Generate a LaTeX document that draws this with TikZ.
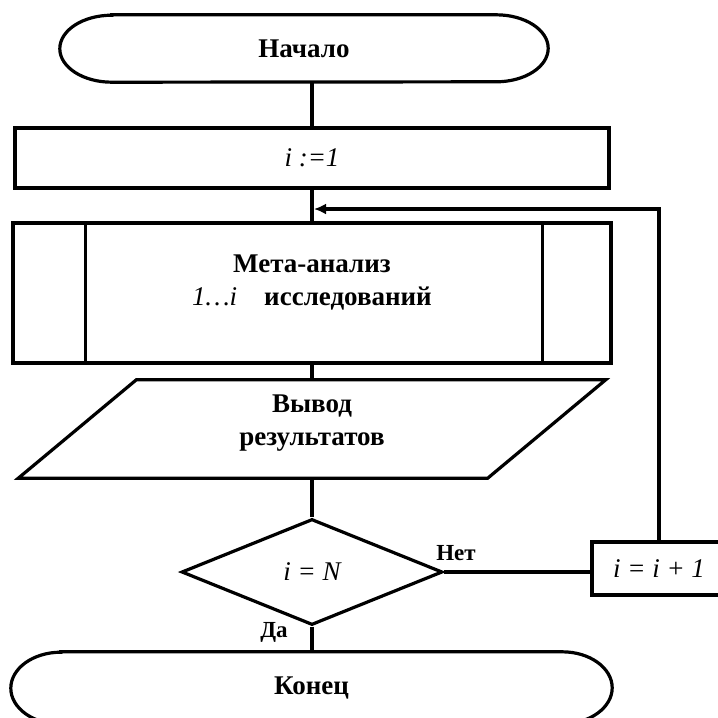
\documentclass[tikz,border=0pt]{standalone}
\usepackage{fontspec}
\setmainfont{Liberation Serif}
\usetikzlibrary{arrows.meta,shapes.geometric}

\begin{document}
\begin{tikzpicture}[x=1pt,y=1pt,
  line/.style={line width=3.2pt},
  box/.style={draw, line width=3.2pt, inner sep=0pt, align=center, font=\fontsize{27}{33}\selectfont\bfseries},
  blank/.style={inner sep=0pt, align=center, font=\fontsize{27}{33}\selectfont\bfseries},
  tag/.style={font=\fontsize{23}{26}\selectfont\bfseries}]
\useasboundingbox (0,0) rectangle (718,-718);
\node[blank, minimum width=488, minimum height=67] (start) at (304,-48.5) {Начало};
\draw[line] ([xshift=52]start.north west) -- ([xshift=-52]start.north east) arc[start angle=90, end angle=-90, x radius=52, y radius=33.5] -- ([xshift=52]start.south west) arc[start angle=270, end angle=90, x radius=52, y radius=33.5] -- cycle;
\node[box, minimum width=594, minimum height=60] (init) at (312,-158) {\mdseries\itshape i :=1};
\node[box, minimum width=598, minimum height=140, label={[blank, yshift=10pt]center:{Мета-анализ\\{\mdseries\itshape 1…i}\quad исследований}}] (meta) at (312,-293) {};
\draw[line] ([xshift=74]meta.north west) -- ([xshift=74]meta.south west);
\draw[line] ([xshift=-70]meta.north east) -- ([xshift=-70]meta.south east);
\node[blank, minimum width=587, minimum height=98, label={[blank, yshift=6pt]center:{Вывод\\результатов}}] (out) at (312,-429) {};
\draw[line] ([xshift=118]out.north west) -- (out.north east) -- ([xshift=-118]out.south east) -- (out.south west) -- cycle;
\node[box, diamond, minimum width=261, minimum height=106] (cond) at (312,-572) {\mdseries\itshape i = N};
\node[box, minimum width=134, minimum height=53] (inc) at (659,-568.5) {\mdseries\itshape i = i + 1};
\node[blank, minimum width=601, minimum height=72] (stop) at (311.5,-688) {Конец};
\draw[line] ([xshift=50]stop.north west) -- ([xshift=-50]stop.north east) arc[start angle=90, end angle=-90, x radius=50, y radius=36] -- ([xshift=50]stop.south west) arc[start angle=270, end angle=90, x radius=50, y radius=36] -- cycle;
\coordinate (loop) at (314,-209);
% connectors
\draw[line] (init.north |- start.south) -- (init.north);
\draw[line] (init.south) -- (meta.north);
\draw[line] (meta.south) -- (out.north);
\draw[line] (out.south) -- (cond.north);
\draw[line] (cond.east) -- (cond.east -| inc.west);
\draw[line, -{Latex[length=12pt, width=11pt]}] (inc.north) |- (loop);
\draw[line] (cond.south) -- (cond.south |- stop.north);
\node[tag] (no) at (456,-553) {Нет};
\node[tag] (yes) at (274,-632) {Да};
\end{tikzpicture}
\end{document}
